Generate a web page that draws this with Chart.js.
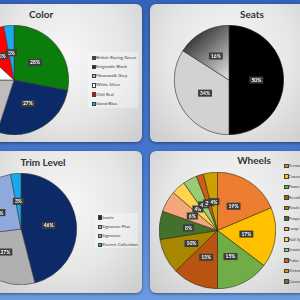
<!DOCTYPE html>
<html>
<head>
<meta charset="utf-8">
<script src="https://cdn.jsdelivr.net/npm/chart.js@4/dist/chart.umd.min.js"></script>
<style>
html, body { margin: 0; padding: 0; width: 300px; height: 300px; overflow: hidden; }
body { position: relative; background: linear-gradient(#3363b6, #4677cc 55%, #6a9ae0); font-family: Lato, "Open Sans", sans-serif; }
.panel { position: absolute; border-radius: 6px; background: radial-gradient(ellipse at 50% 38%, #f7f7f7 0%, #e6e6e6 55%, #cbcbcb 100%); box-shadow: 0 1px 3px rgba(0,0,0,0.45); }
.title { position: absolute; font-weight: bold; font-size: 10px; line-height: 10px; color: #333; transform: translate(-50%, -50%); white-space: nowrap; }
.legend { position: absolute; background: rgba(255,255,255,0.35); }
.item { position: absolute; font-size: 4.5px; line-height: 5px; color: #404040; white-space: nowrap; }
.sw { position: absolute; width: 2.6px; height: 2.6px; border: 0.5px solid #404040; }
canvas { position: absolute; }
</style>
</head>
<body>
<div class="panel" style="left:-12px; top:4px; width:154px; height:138px;"></div>
<div class="panel" style="left:150px; top:4px; width:160px; height:138px;"></div>
<div class="panel" style="left:-12px; top:151px; width:154px; height:142px;"></div>
<div class="panel" style="left:150px; top:151px; width:160px; height:142px;"></div>

<div class="title" style="left:41px; top:14px;">Color</div>
<div class="title" style="left:252px; top:14px;">Seats</div>
<div class="title" style="left:43px; top:162px;">Trim Level</div>
<div class="title" style="left:254px; top:160px;">Wheels</div>

<div class="legend" style="left:88px; top:52px; width:50px; height:56px;"></div>
<div class="legend" style="left:95px; top:213px; width:43px; height:35px;"></div>

<canvas id="color" width="110" height="110" style="left:-41px; top:25px;"></canvas>
<canvas id="seats" width="110" height="110" style="left:174px; top:25px;"></canvas>
<canvas id="trim" width="112" height="112" style="left:-35px; top:173px;"></canvas>
<canvas id="wheels" width="117" height="117" style="left:159px; top:172px;"></canvas>

<script>
const colorNames = ['British Racing Green', 'Enigmatic Black', 'Moonwalk Grey', 'White Silver', 'Chili Red', 'Island Blue'];
const colorValues = [28, 27, 20, 12, 10, 3];
const colorFills = ['#0a7d0a', '#0c2a68', '#bdbdbd', '#ffffff', '#ff0000', '#1aa8ee'];

const seatNames = ['Carbon Black', 'Satellite Grey', 'Shaded Grey'];
const seatValues = [50, 34, 16];
const seatFills = ['#000000', '#d2d2d2', '#777777'];

const trimNames = ['Iconic', 'Signature Plus', 'Signature', 'Electric Collection'];
const trimValues = [46, 27, 24, 3];
const trimFills = ['#0c2a68', '#b0b0b0', '#8eaadc', '#16a9ec'];

const wheelNames = ['Tentacle Spoke', 'Cosmos Spoke', 'Powerlight Spoke', 'Revolite Spoke', 'Roulette Spoke', 'Propeller Spoke',
  'Loop Spoke', 'Rail Spoke', 'Scooter Spoke', 'Pulse Spoke', 'Victory Spoke', 'Cosmos Black'];
const wheelValues = [19, 17, 15, 13, 10, 8, 6, 4, 4, 2, 4, 0];
const wheelFills = ['#ed7d31', '#ffc000', '#70ad47', '#b9530f', '#a88600', '#43702a',
  '#f4a77a', '#ffd34d', '#98cc74', '#cf5d18', '#cca000', '#548235'];

// grey boxes with the percentage in the middle of each slice
const pctLabels = {
  id: 'pctLabels',
  afterDatasetsDraw(chart) {
    const ctx = chart.ctx;
    const values = chart.data.datasets[0].data;
    chart.getDatasetMeta(0).data.forEach((arc, i) => {
      if (!values[i]) return;
      const mid = (arc.startAngle + arc.endAngle) / 2;
      const x = arc.x + Math.cos(mid) * arc.outerRadius * 0.5;
      const y = arc.y + Math.sin(mid) * arc.outerRadius * 0.5;
      const txt = values[i] + '%';
      ctx.save();
      ctx.font = 'bold 5px Lato, sans-serif';
      const w = ctx.measureText(txt).width + 4;
      ctx.fillStyle = '#3c3c3c';
      ctx.fillRect(x - w / 2, y - 3.5, w, 7);
      ctx.fillStyle = '#fff';
      ctx.textAlign = 'center';
      ctx.textBaseline = 'middle';
      ctx.fillText(txt, x, y + 0.3);
      ctx.restore();
    });
  }
};

function makePie(id, names, values, fills, border) {
  return new Chart(document.getElementById(id), {
    type: 'pie',
    data: {
      labels: names,
      datasets: [{ data: values, backgroundColor: fills, borderColor: border, borderWidth: 0.6 }]
    },
    options: {
      responsive: false,
      animation: false,
      plugins: { legend: { display: false }, tooltip: { enabled: false } }
    },
    plugins: [pctLabels]
  });
}

makePie('color', colorNames, colorValues, colorFills, '#3a3a3a');
makePie('trim', trimNames, trimValues, trimFills, '#3a3a3a');
makePie('wheels', wheelNames, wheelValues, wheelFills, '#2e2a10');

const seatBg = (c) => {
  if (c.dataIndex !== 2) return seatFills[c.dataIndex];
  const a = c.chart.chartArea;
  if (!a) return seatFills[2];
  const cx = (a.left + a.right) / 2, cy = (a.top + a.bottom) / 2, r = (a.right - a.left) / 2;
  const g = c.chart.ctx.createLinearGradient(cx - r * 0.7, cy - r * 0.85, cx + 2, cy - 2);
  g.addColorStop(0, '#2b2b2b');
  g.addColorStop(1, '#e6e6e6');
  return g;
};
makePie('seats', seatNames, seatValues, seatBg, '#2a2a2a');

function legend(names, fills, x, y0, step) {
  names.forEach((n, i) => {
    const y = y0 + i * step;
    const sw = document.createElement('div');
    sw.className = 'sw';
    sw.style.left = x + 'px';
    sw.style.top = (y - 1.8) + 'px';
    sw.style.background = fills[i];
    document.body.appendChild(sw);
    const t = document.createElement('div');
    t.className = 'item';
    t.style.left = (x + 4.5) + 'px';
    t.style.top = (y - 2.5) + 'px';
    t.textContent = n;
    document.body.appendChild(t);
  });
}
legend(colorNames, colorFills, 91.5, 57.3, 9.2);
legend(trimNames, trimFills, 97.5, 217.2, 9.1);
legend(wheelNames, wheelFills, 284, 165.5, 10.5);
</script>
</body>
</html>
